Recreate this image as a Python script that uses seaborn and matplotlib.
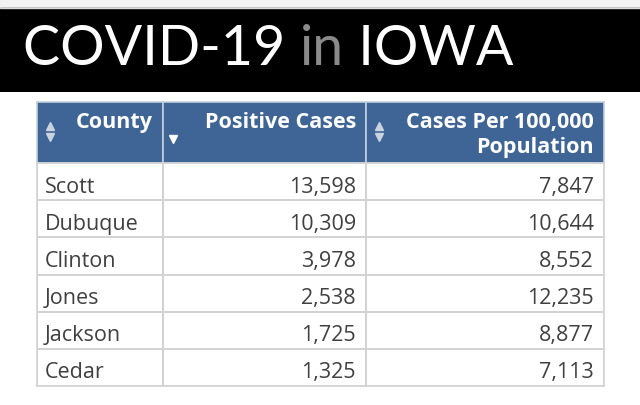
import numpy as np
import seaborn as sns
import matplotlib.pyplot as plt
from matplotlib.colors import ListedColormap

counties = ["Scott", "Dubuque", "Clinton", "Jones", "Jackson", "Cedar"]
positive_cases = [13598, 10309, 3978, 2538, 1725, 1325]
cases_per_100k = [7847, 10644, 8552, 12235, 8877, 7113]
headers = ["County", "Positive Cases", "Cases Per 100,000\nPopulation"]

W, H = 640, 406
# column edges and table rows in pixels
col_edges = [37, 163, 366, 604]
head_top, head_bot, body_bot = 103, 164, 387
header_blue = "#3f6597"
grid = "#d3d3d3"

sns.set_theme(style="white")
plt.rcParams['font.family'] = ['Open Sans', 'DejaVu Sans']

fig = plt.figure(figsize=(W / 100, H / 100), dpi=100)
fig.patch.set_facecolor("white")


def px_axes(x0, y0, x1, y1):
    return fig.add_axes([x0 / W, 1 - y1 / H, (x1 - x0) / W, (y1 - y0) / H])


# banner
ban = px_axes(0, 0, W, 93)
ban.set_xlim(0, W)
ban.set_ylim(93, 0)
ban.axis("off")
ban.axhspan(0, 9, color="#f2f2f2")
ban.axhline(8.5, color="#d8d8d8", lw=1)
ban.axhspan(9, 93, color="black")

r = fig.canvas.get_renderer()
x = 23
for part, c in [("COVID-19 ", "white"), ("in", "#8a8a8a"), (" IOWA", "white")]:
    t = ban.text(x, 65, part, color=c, fontsize=40, family="Lato",
                 va="baseline", ha="left")
    bb = t.get_window_extent(renderer=r)
    x += bb.width

columns = [counties,
           [f"{v:,}" for v in positive_cases],
           [f"{v:,}" for v in cases_per_100k]]

for j in range(3):
    x0, x1 = col_edges[j], col_edges[j + 1]
    # header cell
    hax = px_axes(x0, head_top, x1, head_bot)
    sns.heatmap(np.zeros((1, 1)), ax=hax, cmap=ListedColormap([header_blue]),
                cbar=False, xticklabels=False, yticklabels=False)
    hax.set_xlim(x0, x1)
    hax.set_ylim(head_bot, head_top)
    hax.collections[0].remove()
    hax.axvspan(x0, x1, color=header_blue)
    for s in hax.spines.values():
        s.set_visible(True)
        s.set_color("#c4cfdc")
        s.set_linewidth(1.2)
    lines = headers[j].split("\n")
    for k, line in enumerate(lines):
        hax.text(x1 - 10, 128 + 25 * k, line, color="white", fontsize=15.5,
                 fontweight="bold", ha="right", va="baseline")
    if j == 1:
        hax.plot([x0 + 10], [140], marker="v", color="white", ms=5.5)
    else:
        hax.plot([x0 + 13], [127], marker="^", color="#c9d3df", ms=5.5)
        hax.plot([x0 + 13], [138], marker="v", color="#c9d3df", ms=5.5)

    # body cells
    bax = px_axes(x0, head_bot, x1, body_bot)
    sns.heatmap(np.zeros((len(counties), 1)), ax=bax,
                cmap=ListedColormap(["white"]), cbar=False,
                linewidths=1.2, linecolor=grid,
                xticklabels=False, yticklabels=False)
    for s in bax.spines.values():
        s.set_visible(True)
        s.set_color(grid)
        s.set_linewidth(1.2)
    for i, val in enumerate(columns[j]):
        if j == 0:
            bax.text(8 / (x1 - x0), i + 0.77, val, color="#404040",
                     fontsize=15.5, ha="left", va="baseline")
        else:
            bax.text(1 - 10 / (x1 - x0), i + 0.77, val, color="#404040",
                     fontsize=15.5, ha="right", va="baseline")

fig.savefig("out.png", dpi=100, facecolor="white")
